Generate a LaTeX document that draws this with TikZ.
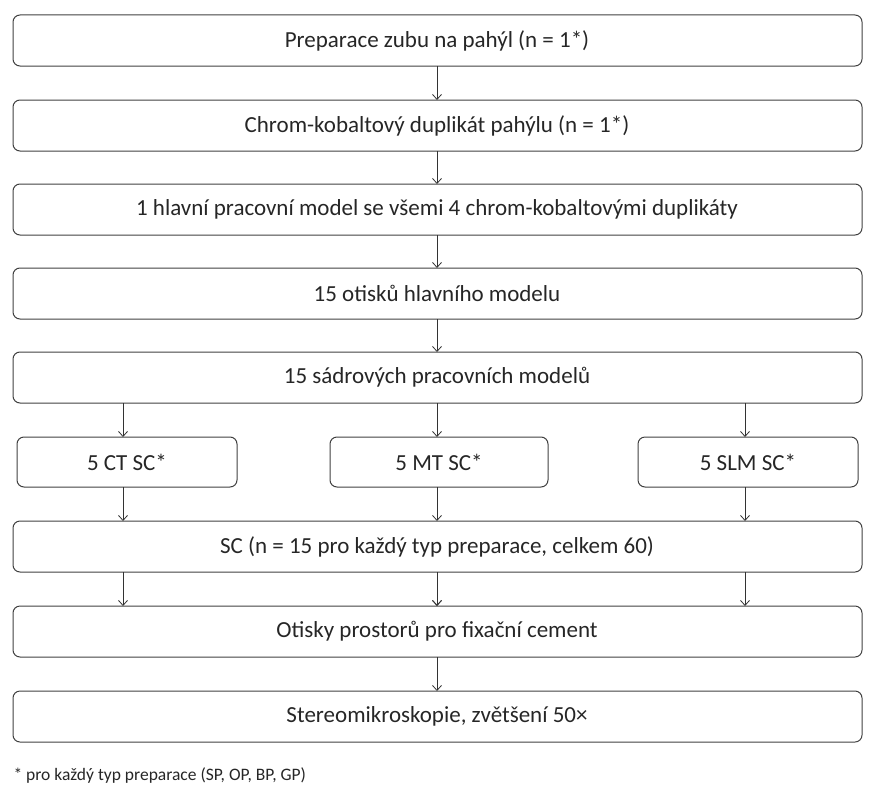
\documentclass[tikz,border=0pt]{standalone}
\usepackage{fontspec}
\setmainfont{Carlito}
\usetikzlibrary{arrows.meta}
\begin{document}
\begin{tikzpicture}[x=1pt,y=-1pt,
  box/.style={draw=black!75,line width=1pt,rounded corners=7pt},
  lbl/.style={font=\fontsize{23}{26}\selectfont,text=black!85},
  arr/.style={-{Straight Barb[length=5pt,width=9pt]},draw=black!80,line width=0.8pt}]
\useasboundingbox (0,0) rectangle (872,800);
\foreach \n/\y/\t in {b1/15/{Preparace zubu na pahýl (n = 1*)},
  b2/100/{Chrom-kobaltový duplikát pahýlu (n = 1*)},
  b3/184/{1 hlavní pracovní model se všemi 4 chrom-kobaltovými duplikáty},
  b4/268/{15 otisků hlavního modelu},
  b5/352/{15 sádrových pracovních modelů},
  b6/521/{SC (n = 15 pro každý typ preparace, celkem 60)},
  b7/606/{Otisky prostorů pro fixační cement},
  b8/691/{Stereomikroskopie, zvětšení 50×}}
  {\draw[box] (13,\y) rectangle (862,\y+51);
   \node[lbl] (\n) at (437,\y+25.5) {\t};}
\draw[box] (17,437) rectangle (237,487); \node[lbl] (s1) at (127,462) {5 CT SC*};
\draw[box] (330,437) rectangle (548,487); \node[lbl] (s2) at (439,462) {5 MT SC*};
\draw[box] (638,437) rectangle (858,487); \node[lbl] (s3) at (748,462) {5 SLM SC*};
\foreach \a/\ya/\yb in {437/66/100,437/151/184,437/235/268,437/319/352,437/572/606,437/657/691}
  \draw[arr] (\a,\ya) -- (\a,\yb);
\foreach \a in {123,437,745}{
  \draw[arr] (\a,403) -- (\a,437);
  \draw[arr] (\a,487) -- (\a,521);
  \draw[arr] (\a,572) -- (\a,606);}
\node[anchor=west,font=\fontsize{17.5}{20}\selectfont,text=black!85] (fn) at (10,775) {* pro každý typ preparace (SP, OP, BP, GP)};
\end{tikzpicture}
\end{document}
